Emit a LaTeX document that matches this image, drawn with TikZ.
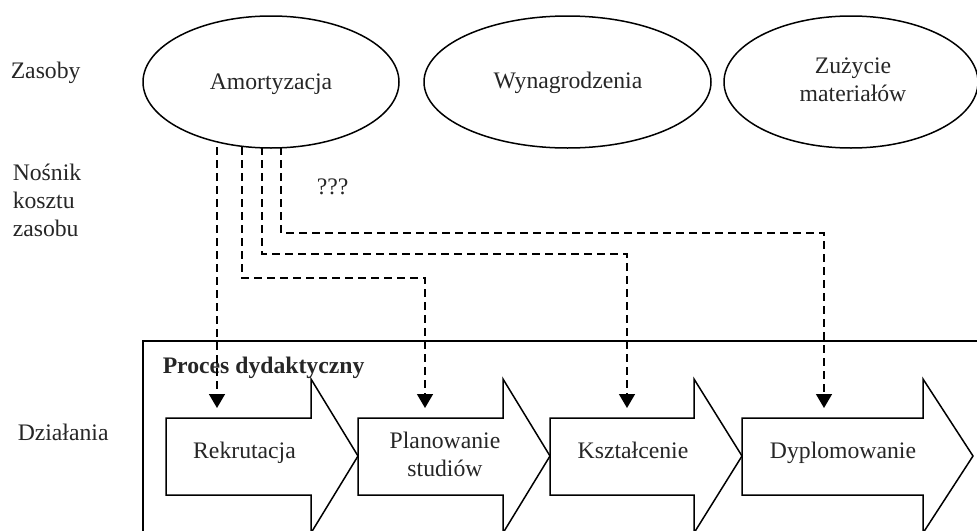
\documentclass[tikz,border=0pt]{standalone}
\usepackage{fontspec}
\setmainfont{Liberation Serif}
\usetikzlibrary{arrows.meta,shapes.geometric}
\begin{document}
\begin{tikzpicture}[x=1pt,y=-1pt,line width=1.5pt,
  txt/.style={font=\fontsize{23.7}{28}\selectfont,text=black!85,align=center,inner sep=0pt},
  lbl/.style={txt,align=left,anchor=base west},
  res/.style={ellipse,draw,inner sep=0pt,minimum width=256pt,minimum height=132pt},
  stepbox/.style={draw,fill=white,line join=miter},
  cost/.style={draw,dash pattern=on 8pt off 5pt,-{Triangle[width=16pt,length=14pt]}}]
\useasboundingbox (0,0) rectangle (977,530);
\clip (0,0) rectangle (977,530);
% frame
\draw (143,341) rectangle (1000,560);
% resources
\node[res] (amort) at (271,82) {};
\node[res,minimum width=287pt] (wyn) at (567.5,82) {};
\node[res,minimum width=254pt] (zuz) at (851,82) {};
\node[txt,anchor=base] (tamort) at (271,89) {Amortyzacja};
\node[txt,anchor=base] (twyn) at (568,88) {Wynagrodzenia};
\node[txt,anchor=base] (tzuz) at (853,101) {Zużycie\\materiałów};
% left labels
\node[lbl] (lzas) at (10,78) {Zasoby};
\node[lbl] (lnos) at (12,236) {Nośnik\\kosztu\\zasobu};
\node[lbl] (ldzi) at (17,440) {Działania};
\node[txt,anchor=base west] (qqq) at (316,194) {???};
% process
\node[txt,anchor=base west,font=\fontsize{23.7}{28}\selectfont\bfseries] (proc) at (162,373) {Proces dydaktyczny};
% block arrows
\draw[stepbox] (166,418) -- (311,418) -- (311,379) -- (358,456) -- (311,533) -- (311,495) -- (166,495) -- cycle;
\draw[stepbox] (358,418) -- (503,418) -- (503,379) -- (550,456) -- (503,533) -- (503,495) -- (358,495) -- cycle;
\draw[stepbox] (550,418) -- (694,418) -- (694,379) -- (742,456) -- (694,533) -- (694,495) -- (550,495) -- cycle;
\draw[stepbox] (742,418) -- (923,418) -- (923,379) -- (973,456) -- (923,533) -- (923,495) -- (742,495) -- cycle;
\node[txt,anchor=base] (rek) at (244.5,458) {Rekrutacja};
\node[txt,anchor=base] (pla) at (445,476) {Planowanie\\studiów};
\node[txt,anchor=base] (ksz) at (633,458) {Kształcenie};
\node[txt,anchor=base] (dyp) at (843,458) {Dyplomowanie};
% connector ends
\coordinate (s1) at (217,147);
\coordinate (s2) at (242,147);
\coordinate (s3) at (262,147);
\coordinate (s4) at (281,147);
\coordinate (t1) at (217,408);
\coordinate (t2) at (425,408);
\coordinate (t3) at (627,408);
\coordinate (t4) at (824,408);
\draw[cost] (s1) -- (t1);
\draw[cost] (s2) -- ++(0,131) -| (t2);
\draw[cost] (s3) -- ++(0,107) -| (t3);
\draw[cost] (s4) -- ++(0,86) -| (t4);
\end{tikzpicture}
\end{document}
